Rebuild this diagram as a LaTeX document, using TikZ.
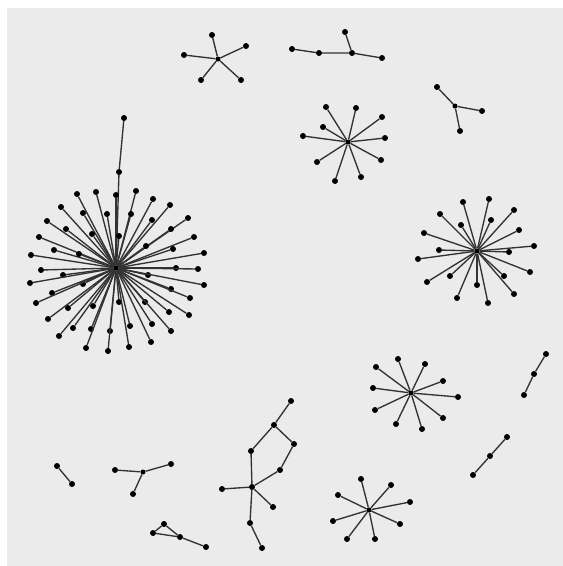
\documentclass[tikz,border=0pt]{standalone}
\definecolor{bg}{HTML}{EBEBEB}
\begin{document}
\begin{tikzpicture}[x=1pt,y=-1pt,
  dot/.style={circle,fill=black,inner sep=0pt,minimum size=6pt},
  hub/.style={circle,fill=black,inner sep=0pt,minimum size=5pt},
  link/.style={draw=black!80,line width=1.35pt}]
\useasboundingbox (0,0) rectangle (563,566);
\fill[bg] (7,8) rectangle (563,566);

% big star
\node[hub] (bc) at (116,268) {};
\node[dot] (bt1) at (124,118) {};
\node[dot] (bt2) at (119,172) {};
\draw[link] (bt1) -- (bt2);
\draw[link] (bt2) -- (bc);
\foreach \x/\y [count=\i] in {77/194,96/192,116/195,136/191,153/199,170/205,61/207,83/213,107/214,131/214,
  47/221,188/218,152/220,66/229,171/229,92/234,119/236,194/237,39/237,146/246,
  54/250,173/249,79/254,204/253,31/255,41/270,63/275,176/268,198/269,148/275,
  30/283,204/285,83/284,52/293,171/289,36/303,190/298,68/308,93/306,119/302,
  145/302,169/312,48/319,189/315,73/328,91/329,110/331,130/326,152/324,171/331,
  59/336,151/342,86/348,108/351,129/347}{
  \node[dot] (b\i) at (\x,\y) {};
  \draw[link] (bc) -- (b\i);
}

% small star top
\node[hub] (tc) at (218,59) {};
\foreach \x/\y [count=\i] in {212/35,246/46,184/55,201/80,241/80}{
  \node[dot] (t\i) at (\x,\y) {};
  \draw[link] (tc) -- (t\i);
}

% top path
\node[dot] (p1) at (292,49) {};
\node[dot] (p2) at (319,53) {};
\node[dot] (p3) at (352,53) {};
\node[dot] (p4) at (345,32) {};
\node[dot] (p5) at (382,58) {};
\draw[link] (p1) -- (p2) -- (p3) -- (p5);
\draw[link] (p3) -- (p4);

% Y top right
\node[hub] (yc) at (455,106) {};
\foreach \x/\y [count=\i] in {437/87,482/111,460/131}{
  \node[dot] (y\i) at (\x,\y) {};
  \draw[link] (yc) -- (y\i);
}

% star top middle
\node[hub] (mc) at (348,142) {};
\foreach \x/\y [count=\i] in {326/107,356/108,382/117,323/127,303/136,385/138,317/162,381/160,335/181,361/177}{
  \node[dot] (m\i) at (\x,\y) {};
  \draw[link] (mc) -- (m\i);
}

% right star
\node[hub] (rc) at (477,251) {};
\foreach \x/\y [count=\i] in {463/202,489/199,514/210,440/214,461/225,491/220,519/230,424/233,439/250,534/246,
  509/252,418/259,530/272,450/276,427/282,504/276,477/285,514/294,457/298,488/303}{
  \node[dot] (r\i) at (\x,\y) {};
  \draw[link] (rc) -- (r\i);
}

% middle right star
\node[hub] (nc) at (411,393) {};
\foreach \x/\y [count=\i] in {398/359,425/364,376/367,443/381,373/388,458/397,375/410,443/418,396/424,422/429}{
  \node[dot] (n\i) at (\x,\y) {};
  \draw[link] (nc) -- (n\i);
}

% lower star
\node[hub] (lc) at (369,510) {};
\foreach \x/\y [count=\i] in {361/479,391/485,338/495,410/502,333/521,400/524,347/539,375/539}{
  \node[dot] (l\i) at (\x,\y) {};
  \draw[link] (lc) -- (l\i);
}

% chains right
\node[dot] (c1) at (546,354) {};
\node[dot] (c2) at (534,374) {};
\node[dot] (c3) at (524,395) {};
\draw[link] (c1) -- (c2) -- (c3);
\node[dot] (d1) at (507,437) {};
\node[dot] (d2) at (490,456) {};
\node[dot] (d3) at (473,475) {};
\draw[link] (d1) -- (d2) -- (d3);

% bottom left pair
\node[dot] (e1) at (57,466) {};
\node[dot] (e2) at (72,484) {};
\draw[link] (e1) -- (e2);

% bottom Y
\node[hub] (fc) at (143,472) {};
\foreach \x/\y [count=\i] in {115/470,171/464,133/494}{
  \node[dot] (f\i) at (\x,\y) {};
  \draw[link] (fc) -- (f\i);
}

% triangle
\node[dot] (g1) at (153,533) {};
\node[dot] (g2) at (164,524) {};
\node[dot] (g3) at (180,537) {};
\node[dot] (g4) at (206,547) {};
\draw[link] (g1) -- (g2) -- (g3) -- (g1);
\draw[link] (g3) -- (g4);

% bottom tree
\node[dot] (hA) at (291,401) {};
\node[dot] (hB) at (274,425) {};
\node[dot] (hC) at (294,444) {};
\node[dot] (hD) at (251,451) {};
\node[dot] (hE) at (280,470) {};
\node[dot] (hF) at (252,487) {};
\node[dot] (hG) at (222,489) {};
\node[dot] (hH) at (273,507) {};
\node[dot] (hI) at (250,523) {};
\node[dot] (hJ) at (262,548) {};
\draw[link] (hA) -- (hB) -- (hD) -- (hF) -- (hE) -- (hC) -- (hB);
\draw[link] (hF) -- (hG);
\draw[link] (hF) -- (hH);
\draw[link] (hF) -- (hI) -- (hJ);
\end{tikzpicture}
\end{document}
